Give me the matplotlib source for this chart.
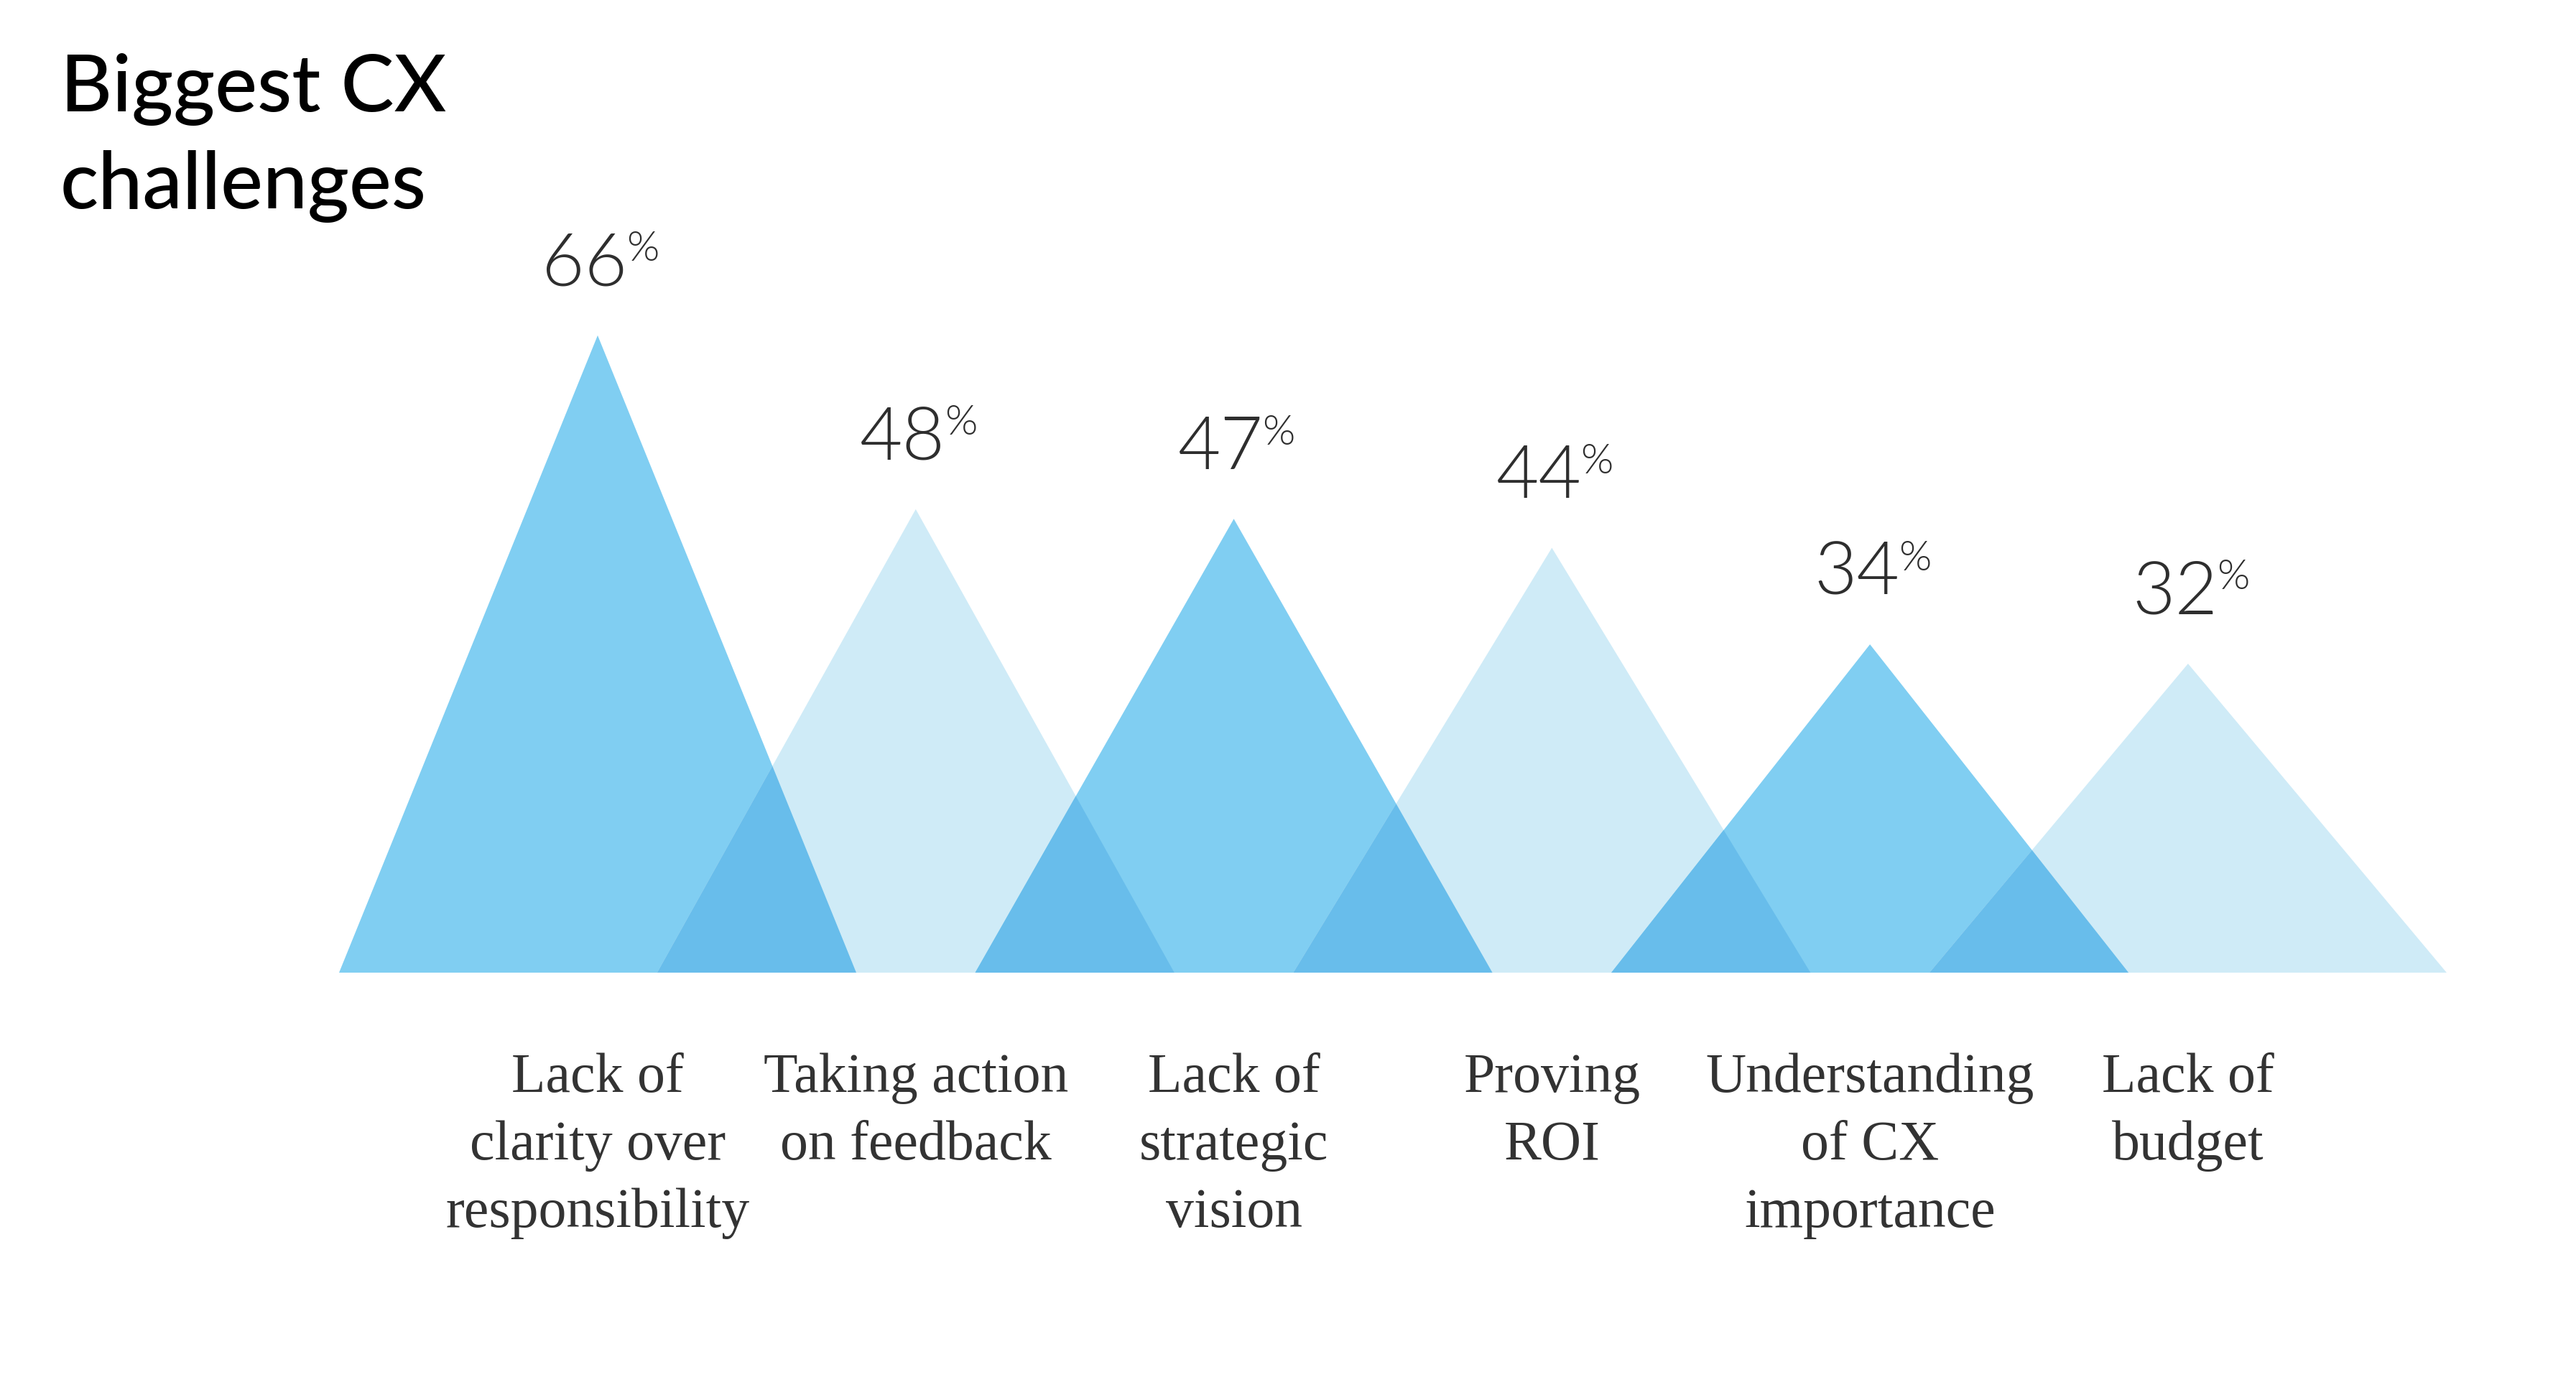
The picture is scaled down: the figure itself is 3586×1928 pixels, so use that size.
import matplotlib
matplotlib.use("Agg")
import matplotlib.pyplot as plt

# values
categories = [
    "Lack of\nclarity over\nresponsibility",
    "Taking action\non feedback",
    "Lack of\nstrategic\nvision",
    "Proving\nROI",
    "Understanding\nof CX\nimportance",
    "Lack of\nbudget",
]
values = [66, 48, 47, 44, 34, 32]
title_lines = ["Biggest CX", "challenges"]

DARK = "#80cef2"
LIGHT = "#cfebf7"
OVERLAP = "#68bdeb"
HALF_BASE = 0.813

W, H, DPI = 3587, 1928, 100
fig = plt.figure(figsize=(W / DPI, H / DPI), dpi=DPI)
fig.patch.set_facecolor("white")
ax = fig.add_axes([0, 0, 1, 1])
ax.set_xlim(-1.879, 6.222)
ax.set_ylim(-42.71, 100.74)
ax.axis("off")

tris = []
for i, v in enumerate(values):
    col = DARK if i % 2 == 0 else LIGHT
    p, = ax.fill([i - HALF_BASE, i, i + HALF_BASE], [0, v, 0], color=col, lw=0, zorder=1)
    tris.append(p)

# darker tone where a dark and a light triangle overlap
for i, v in enumerate(values):
    if i % 2:
        continue
    for j in (i - 1, i + 1):
        if 0 <= j < len(values):
            q, = ax.fill([i - HALF_BASE, i, i + HALF_BASE], [0, v, 0], color=OVERLAP, lw=0, zorder=2)
            q.set_clip_path(tris[j])

for i, (cat, v) in enumerate(zip(categories, values)):
    num = ax.annotate(str(v), xy=(i, v), xytext=(-13, 50), textcoords="offset points",
                      ha="center", va="baseline", fontsize=74, family="Lato",
                      fontweight=300, color="#2e2e2e")
    ax.annotate("%", xy=(1, 1), xycoords=num, xytext=(-1, 0), textcoords="offset points",
                ha="left", va="top", fontsize=42, family="Lato",
                fontweight=300, color="#2e2e2e")
    ax.annotate(cat, xy=(i, 0), xytext=(0, -80), textcoords="offset points",
                ha="center", va="top", multialignment="center", fontsize=56,
                linespacing=1.42, family="Liberation Serif", color="#333333")

fig.text(84 / W, 1 - 155 / H, title_lines[0], ha="left", va="baseline",
         fontsize=80, family="Lato", fontweight=500, color="black")
fig.text(84 / W, 1 - 290 / H, title_lines[1], ha="left", va="baseline",
         fontsize=80, family="Lato", fontweight=500, color="black")

fig.savefig("out.png", dpi=DPI, facecolor="white")
